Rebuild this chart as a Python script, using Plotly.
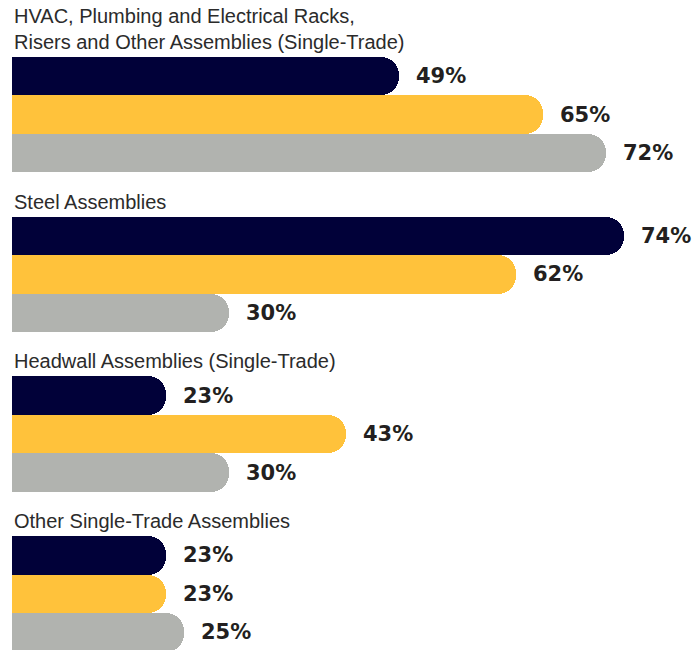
import plotly.graph_objects as go

categories = [
    "HVAC, Plumbing and Electrical Racks,<br>Risers and Other Assemblies (Single-Trade)",
    "Steel Assemblies",
    "Headwall Assemblies (Single-Trade)",
    "Other Single-Trade Assemblies",
]
series_a = [49, 74, 23, 23]   # navy
series_b = [65, 62, 43, 23]   # yellow
series_c = [72, 30, 30, 25]   # gray

colors = ["#010139", "#FFC23B", "#B1B3AF"]
series = [series_a, series_b, series_c]

GROUP_STEP = 4.15

fig = go.Figure()
for j, (vals, col) in enumerate(zip(series, colors)):
    ys = [g * GROUP_STEP + j for g in range(len(categories))]
    fig.add_trace(go.Bar(
        x=vals, y=ys, orientation="h", width=1.0,
        marker=dict(color=col, line=dict(width=0), cornerradius=18),
        hoverinfo="skip", showlegend=False,
    ))
    for v, y in zip(vals, ys):
        fig.add_annotation(
            x=v, y=y, xref="x", yref="y", text=f"{v}%", showarrow=False,
            xanchor="left", yanchor="middle", xshift=15,
            font=dict(family="DejaVu Sans", size=21, color="#231F20", weight="bold"),
        )

for g, cat in enumerate(categories):
    fig.add_annotation(
        x=0, xref="paper", y=g * GROUP_STEP - 0.5, yref="y", text=cat,
        showarrow=False, xanchor="left", yanchor="bottom", align="left", yshift=2,
        font=dict(family="Liberation Sans", size=20, color="#2B2B2B"),
    )

fig.update_layout(
    width=695, height=650,
    margin=dict(l=12, r=0, t=0, b=0),
    paper_bgcolor="white", plot_bgcolor="white",
    bargap=0, barmode="overlay",
    xaxis=dict(range=[5.86, 81.92], visible=False, fixedrange=True),
    yaxis=dict(range=[14.909, -1.974], visible=False, fixedrange=True),
)

fig.write_html("out.html", config={"displayModeBar": False},
               post_script="document.body.style.margin='0';")
